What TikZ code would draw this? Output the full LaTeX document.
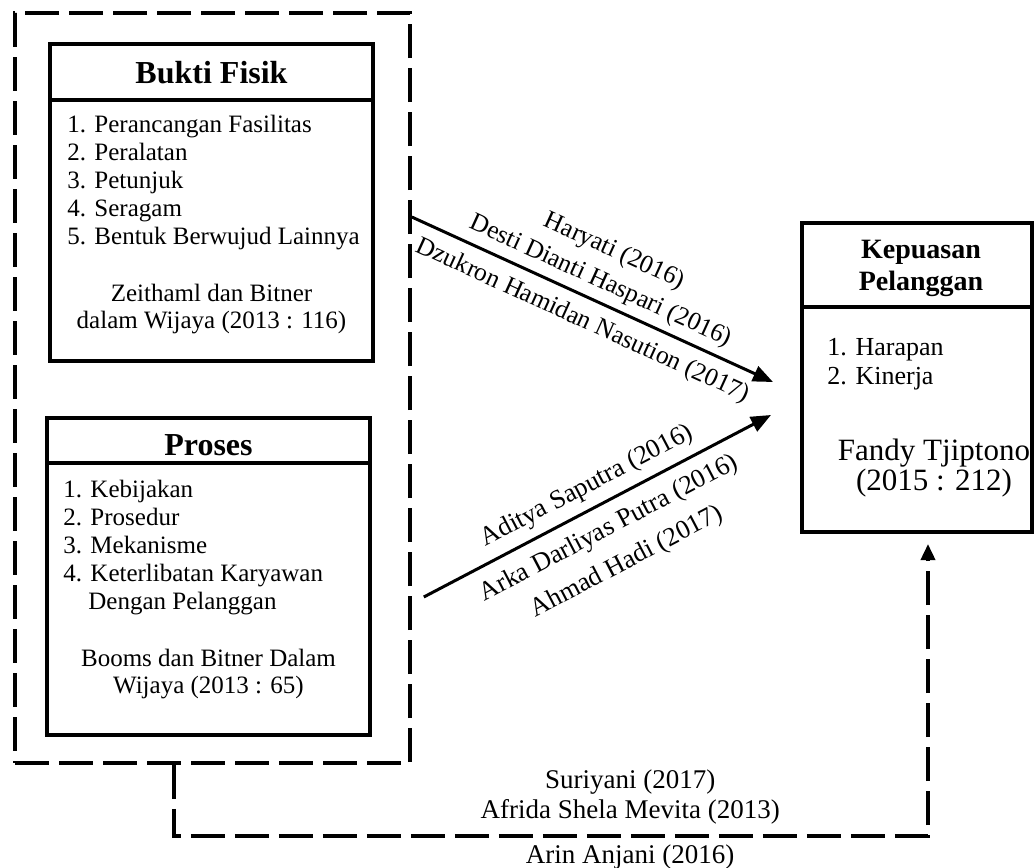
\documentclass[tikz,border=0pt]{standalone}
\usepackage{fontspec}
\setmainfont{Liberation Serif}
\usetikzlibrary{arrows.meta,fit}

\begin{document}
\begin{tikzpicture}[
  x=0.5pt, y=-0.5pt,
  box/.style={draw, line width=2pt, inner sep=0pt},
  group/.style={draw, line width=1.8pt, dash pattern=on 17pt off 5pt, inner sep=0pt},
  title/.style={font=\fontsize{16}{19}\selectfont\bfseries, anchor=base, inner sep=0pt},
  items/.style={font=\fontsize{12.5}{14}\selectfont, align=left, anchor=base west, inner sep=0pt},
  source/.style={font=\fontsize{12.5}{13.5}\selectfont, align=center, anchor=base, inner sep=0pt},
  link/.style={line width=1.5pt, -{Triangle[length=10pt,width=8pt]}},
  flow/.style={line width=1.8pt, dash pattern=on 17pt off 5pt, -{Triangle[length=8pt,width=7pt]}},
  author/.style={font=\fontsize{12.8}{16.5}\selectfont, align=center, sloped},
  note/.style={font=\fontsize{13.5}{15}\selectfont, align=center}
]
\useasboundingbox (0,0) rectangle (1035,868);

% variabel X
\node[group, fit={(15,13) (410,763)}] (group) {};
\node[box, fit={(50,44) (373,361)}] (bukti) {};
\node[box, fit={(47,418) (370,735)}] (proses) {};

\draw[line width=2pt] (bukti.west |- 0,100) -- (bukti.east |- 0,100);
\node[title] (bukti-title) at (bukti.north |- 0,83) {Bukti Fisik};
\node[items] (bukti-items) at (67,244) {1. Perancangan Fasilitas\\2. Peralatan\\3. Petunjuk\\4. Seragam\\5. Bentuk Berwujud Lainnya};
\node[source] (bukti-src) at (bukti.north |- 0,328) {Zeithaml dan Bitner\\dalam Wijaya (2013 : 116)};

\draw[line width=2pt] (proses.west |- 0,463) -- (proses.east |- 0,463);
\node[title] (proses-title) at (proses.north |- 0,455) {Proses};
\node[items] (proses-items) at (63,609) {1. Kebijakan\\2. Prosedur\\3. Mekanisme\\4. Keterlibatan Karyawan\\\hphantom{4.\ }Dengan Pelanggan};
\node[source] (proses-src) at (proses.north |- 0,693) {Booms dan Bitner Dalam\\Wijaya (2013 : 65)};

% variabel Y
\node[box, fit={(802,223) (1032,532)}] (kepuasan) {};
\draw[line width=2pt] (kepuasan.west |- 0,307) -- (kepuasan.east |- 0,307);
\node[title, font=\fontsize{14}{16}\selectfont\bfseries, align=center] (kepuasan-title) at (921,290) {Kepuasan\\Pelanggan};
\node[items, font=\fontsize{13}{14.5}\selectfont] (kepuasan-items) at (827,384) {1. Harapan\\2. Kinerja};
\node[source, font=\fontsize{15.5}{15}\selectfont] (kepuasan-src) at (934,490) {Fandy Tjiptono\\(2015 : 212)};

% pengaruh
\draw[link] (group.east |- 0,217) -- node[author, midway, above, inner sep=3.3pt] (x1-up) {Haryati (2016)\\Desti Dianti Haspari (2016)}
  node[author, midway, below, inner sep=5.3pt] (x1-down) {Dzukron Hamidan Nasution (2017)} ([xshift=-13.5pt]kepuasan.west |- 0,382);
\draw[link] ([xshift=6pt]group.east |- 0,597) -- node[author, midway, above, inner sep=4.3pt, font=\fontsize{13.2}{19}\selectfont] (x2-up) {Aditya Saputra (2016)}
  node[author, midway, below, inner sep=6pt, font=\fontsize{13.2}{19}\selectfont] (x2-down) {Arka Darliyas Putra (2016)\\Ahmad Hadi (2017)} ([xshift=-14.5pt]kepuasan.west |- 0,415);

\coordinate (c1) at (174,836);
\coordinate (c2) at (928,836);
\draw[flow] (group.south -| c1) -- (c1) -- node[note, pos=0.605, above, inner sep=5.1pt] (xy-up) {Suriyani (2017)\\Afrida Shela Mevita (2013)}
  node[note, pos=0.605, below, inner sep=3.7pt] (xy-down) {Arin Anjani (2016)} (c2) -- ([yshift=-5pt]kepuasan.south -| c2);
\end{tikzpicture}
\end{document}
